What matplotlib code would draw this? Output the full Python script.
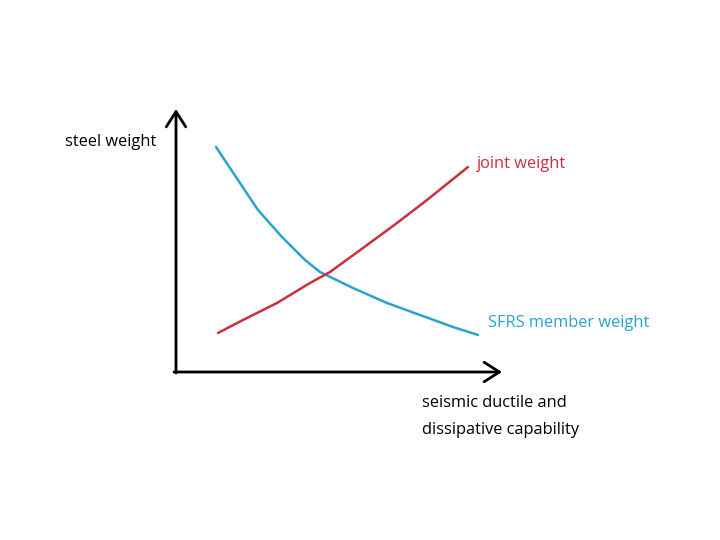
import matplotlib.pyplot as plt

# schematic values, origin at the axes corner (units roughly px)
blue_x = [40, 62, 82, 106, 129, 144, 177, 211, 244, 277, 302]
blue_y = [225, 192, 162, 135, 112, 100, 84, 69, 57, 45, 37]
red_x = [42, 67, 101, 134, 154, 187, 221, 251, 292]
red_y = [39, 52, 69, 89, 100, 124, 149, 172, 205]

blue = "#2aa3cf"
red = "#c9303d"

fig = plt.figure(figsize=(7.2, 5.4), dpi=100)
ax = fig.add_axes([176 / 720, (540 - 372) / 540, 325 / 720, 262 / 540])
ax.set_xlim(0, 325)
ax.set_ylim(0, 262)
ax.axis("off")

ax.plot(blue_x, blue_y, color=blue, lw=1.8, solid_capstyle="round",
        solid_joinstyle="round")
ax.plot(red_x, red_y, color=red, lw=1.8, solid_capstyle="round",
        solid_joinstyle="round")

# axes with open arrowheads
arrow = dict(arrowstyle="->,head_length=1.1,head_width=0.7", color="black",
             lw=2, shrinkA=0, shrinkB=0)
ax.annotate("", xy=(0, 263), xytext=(0, -1), arrowprops=arrow, annotation_clip=False)
ax.annotate("", xy=(326, 0), xytext=(-2, 0), arrowprops=arrow, annotation_clip=False)

font = dict(family="Open Sans", fontsize=11.8, va="center", ha="left")
ax.text(-111, 230, "steel weight", color="black", **font)
ax.text(301, 208, "joint weight", color=red, **font)
ax.text(312, 49, "SFRS member weight", color=blue, **font)
ax.text(246, -31, "seismic ductile and", color="black", **font)
ax.text(246, -58, "dissipative capability", color="black", **font)

fig.savefig("out.png", dpi=100)
